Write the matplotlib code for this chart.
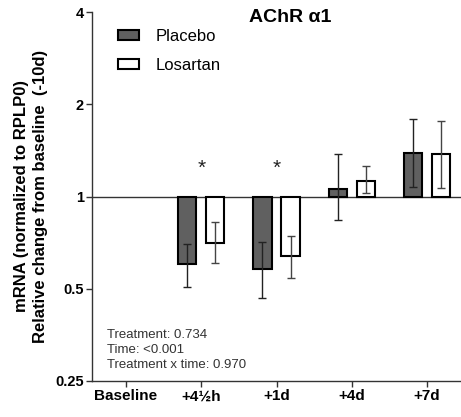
import matplotlib
matplotlib.use("Agg")
import matplotlib.pyplot as plt
import numpy as np
from matplotlib.patches import Patch

plt.rcParams['font.family'] = ['Liberation Sans', 'DejaVu Sans']

categories = ["Baseline", "+4\u00bdh", "+1d", "+4d", "+7d"]
placebo = [np.nan, 0.60, 0.58, 1.06, 1.39]
placebo_lo = [np.nan, 0.505, 0.466, 0.835, 1.078]
placebo_hi = [np.nan, 0.70, 0.712, 1.38, 1.786]
losartan = [np.nan, 0.705, 0.638, 1.122, 1.372]
losartan_lo = [np.nan, 0.605, 0.544, 1.025, 1.068]
losartan_hi = [np.nan, 0.824, 0.742, 1.254, 1.77]
signif = ["", "*", "*", "", ""]
yticks = [0.25, 0.5, 1, 2, 4]
ytick_labels = ["0.25", "0.5", "1", "2", "4"]
stats_lines = ["Treatment: 0.734", "Time: <0.001", "Treatment x time: 0.970"]

fig = plt.figure(figsize=(4.61, 4.17), dpi=100)
ax = fig.add_axes([92/461, 36/417, 1 - 92/461, (381-12)/417])

x = np.arange(len(categories))
w = 0.24
off = 0.186

pv = np.array(placebo); lv = np.array(losartan)
ax.bar(x - off, pv - 1, bottom=1, width=w, color='#606060', edgecolor='black', linewidth=1.5, zorder=2)
ax.bar(x + off, lv - 1, bottom=1, width=w, color='white', edgecolor='black', linewidth=1.5, zorder=2)

perr = np.array([pv - np.array(placebo_lo), np.array(placebo_hi) - pv])
lerr = np.array([lv - np.array(losartan_lo), np.array(losartan_hi) - lv])
ax.errorbar(x - off, pv, yerr=perr, fmt='none', ecolor='#222222', elinewidth=1, capsize=3, capthick=1, zorder=3)
ax.errorbar(x + off, lv, yerr=lerr, fmt='none', ecolor='#444444', elinewidth=1, capsize=3, capthick=1, zorder=3)

for xi, s in zip(x, signif):
    if s:
        ax.text(xi, 1.24, s, ha='center', va='center', fontsize=15, color='#222222')

ax.axhline(1, color='#333333', linewidth=1, zorder=1)

ax.set_yscale('log', base=2)
ax.set_ylim(0.25, 4)
ax.set_xlim(-0.45, 4.45)
ax.set_yticks(yticks)
ax.set_yticklabels(ytick_labels, fontweight='bold', fontsize=10.5)
ax.yaxis.set_minor_locator(matplotlib.ticker.NullLocator())
ax.set_xticks(x)
ax.set_xticklabels(categories, fontweight='bold', fontsize=11)
ax.tick_params(axis='both', direction='out', length=4, width=1, color='#333333', pad=2)

for sp in ['top', 'right']:
    ax.spines[sp].set_visible(False)
for sp in ['left', 'bottom']:
    ax.spines[sp].set_color('#333333')
    ax.spines[sp].set_linewidth(1)

ax.set_ylabel("mRNA (normalized to RPLP0)\nRelative change from baseline  (-10d)",
              fontweight='bold', fontsize=12, labelpad=5, linespacing=1.3)

handles = [Patch(facecolor='#606060', edgecolor='black', linewidth=1.5, label='Placebo'),
           Patch(facecolor='white', edgecolor='black', linewidth=1.5, label='Losartan')]
leg = ax.legend(handles=handles, loc='upper left', bbox_to_anchor=(0.03, 0.995), frameon=False,
                fontsize=12, handlelength=1.25, handleheight=0.6, handletextpad=1.0, labelspacing=0.85)

fig.text(290/461, 1 - 17/417, "AChR \u03b11", ha='center', va='center', fontsize=14, fontweight='bold')

for i, line in enumerate(stats_lines):
    fig.text(107/461, 1 - (335 + 15*i)/417, line, ha='left', va='center', fontsize=9.5, color='#333333')

fig.savefig("out.png", dpi=100)
